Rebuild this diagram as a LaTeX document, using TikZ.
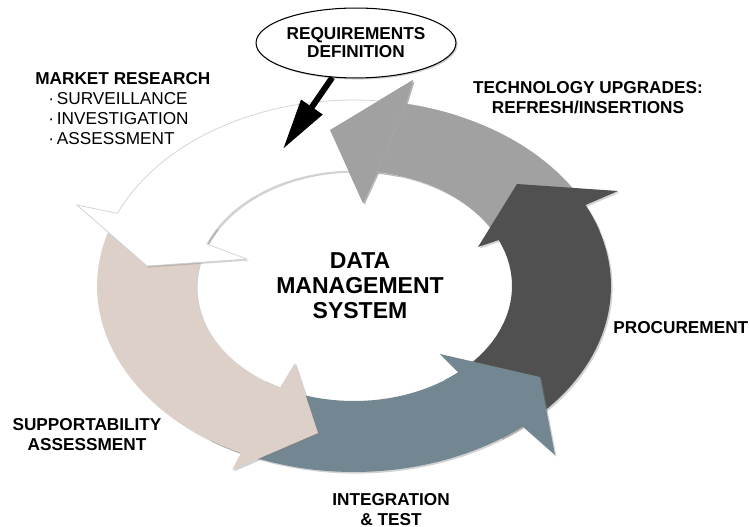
\documentclass[tikz,border=0pt]{standalone}
\usepackage{fontspec}
\setmainfont{Liberation Sans}
\usetikzlibrary{shadows,arrows.meta,shapes.geometric}
\definecolor{beigec}{RGB}{221,208,200}
\definecolor{slatec}{RGB}{115,135,146}
\definecolor{darkc}{RGB}{80,80,80}
\definecolor{lightc}{RGB}{161,161,161}
% ring segment: start angle, outer neck angle, outer barb, tip, inner barb, inner neck angle
\newcommand\ringpath[6]{plot[domain=#1:#2,samples=40,variable=\t]({354+257*cos(\t)},{286-186*sin(\t)}) -- #3 -- #4 -- #5 -- plot[domain=#6:#1,samples=40,variable=\t]({354+158*cos(\t)},{286-115*sin(\t)}) -- cycle}
\tikzset{
  shad/.style={drop shadow={shadow xshift=0.9pt,shadow yshift=-0.9pt,opacity=0.35}},
  lbl/.style={font=\fontsize{9.8}{11.38}\selectfont\bfseries, inner sep=0pt, align=center},
}
\begin{document}
\begin{tikzpicture}[x=0.02cm,y=-0.02cm]
\fill[white] (0,0) rectangle (750,527);
\useasboundingbox (0,0) rectangle (750,527);

% ring arrows
\fill[lightc,shad] \ringpath{18}{78.4}{(413,80)}{(330,130)}{(363,203)}{81.6};
\fill[darkc,shad] \ringpath{305}{385.8}{(618,191)}{(517,184)}{(478,247)}{383.6};
\fill[slatec,shad] \ringpath{236}{311}{(555,455)}{(540,377)}{(440,354)}{311.3};
\fill[beigec,shad] \ringpath{150}{243.9}{(232,470)}{(318,433)}{(295,363)}{242.1};
\filldraw[fill=white,draw=black!18,line width=0.4pt,shad] \ringpath{74}{157}{(77,205)}{(147,266)}{(247,259)}{158.6};
% light grey head on top of the white tail
\fill[lightc,shad] ({354+257*cos(78.4)},{286-186*sin(78.4)}) -- (413,80) -- (330,130) -- (363,203) -- ({354+158*cos(81.6)},{286-115*sin(81.6)}) -- cycle;
\fill[lightc] plot[domain=66:78.4,samples=20,variable=\t]({354+257*cos(\t)},{286-186*sin(\t)}) -- plot[domain=81.6:66,samples=20,variable=\t]({354+158*cos(\t)},{286-115*sin(\t)}) -- cycle;

% requirements
\node[ellipse, draw, line width=0.6pt, fill=white, shad, minimum width=113.8pt, minimum height=39.8pt, inner sep=0pt,
      font=\fontsize{9.8}{10.24}\selectfont\bfseries, align=center] (req) at (356,43) {REQUIREMENTS\\DEFINITION};
\coordinate (reqtip) at (283,149);
\draw[line width=3.4pt, -{Triangle[length=29pt,width=14pt]}] (req) -- (reqtip);

% labels (anchor=base is the baseline of the last line)
\node[lbl, anchor=base west] (mr) at (35,85) {MARKET RESEARCH};
\node[font=\fontsize{9.8}{11.1}\selectfont, inner sep=0pt, align=left, anchor=base west] (mrlist) at (48,144)
  {·\,SURVEILLANCE\\·\,INVESTIGATION\\·\,ASSESSMENT};
\node[lbl, anchor=base] (tech) at (588,113) {TECHNOLOGY UPGRADES:\\REFRESH/INSERTIONS};
\node[lbl, anchor=base west] (proc) at (613,333) {PROCUREMENT};
\node[lbl, anchor=base] (supp) at (87,450) {SUPPORTABILITY\\ASSESSMENT};
\node[lbl, anchor=base] (integ) at (391,525) {INTEGRATION\\\& TEST};
\node[font=\fontsize{13.1}{14.2}\selectfont\bfseries, inner sep=0pt, align=center, anchor=base] (dms) at (360,318)
  {DATA\\MANAGEMENT\\SYSTEM};
\end{tikzpicture}
\end{document}
